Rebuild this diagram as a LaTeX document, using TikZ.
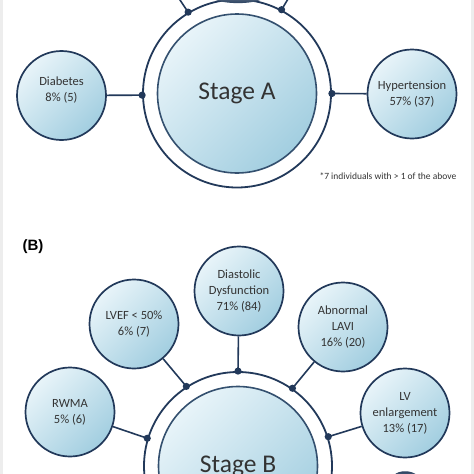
\documentclass[tikz,border=0pt]{standalone}
\usepackage{fontspec}
\setmainfont{Carlito}
\newfontfamily\tagfont{Liberation Sans}
\usepackage{tikz}
\definecolor{navy}{HTML}{22395A}
\definecolor{ringline}{HTML}{34506F}
\definecolor{paleblue}{HTML}{E8F4F9}
\definecolor{midblue}{HTML}{A2CEE0}
\definecolor{sidegray}{HTML}{EDEDED}
\definecolor{slate}{HTML}{4A5E77}
\definecolor{ink}{HTML}{333333}

\begin{document}
\begin{tikzpicture}[x=1pt,y=-1pt,
  satfont/.style={align=center,text=ink,font=\fontsize{12.5}{16}\selectfont},
  sat/.style={circle,draw=navy,line width=1.7pt,minimum size=89pt,inner sep=0pt,satfont,
    top color=paleblue,bottom color=midblue,shading angle=45},
  ring/.style={circle,draw=navy,line width=1.8pt,fill=white,minimum size=188pt,inner sep=0pt},
  core/.style={circle,draw=ringline,line width=1.6pt,minimum size=159pt,inner sep=0pt,text=ink,
    top color=paleblue,bottom color=midblue,shading angle=45,font=\fontsize{25.5}{30}\selectfont},
  link/.style={draw=navy,line width=1.6pt}]
\useasboundingbox (0,0) rectangle (474,474);
\clip (0,0) rectangle (474,474);
\fill[sidegray] (0,0) rectangle (3,474);
\fill[sidegray] (471,0) rectangle (474,474);

% (A)
\node[ring] (ringA) at (237,93.5) {};
\node[core] (coreA) at (237,93.5) {Stage A};
\node[sat,label={[satfont,yshift=5pt]center:Diabetes\\8\% (5)}] (diab) at (61.5,95.5) {};
\node[sat] (hyper) at (412,94) {Hypertension\\57\% (37)};
\coordinate (jA1) at (ringA.181);
\coordinate (jA2) at (ringA.0);
\coordinate (jA3) at (ringA.121.3);
\coordinate (jA4) at (ringA.62.8);
\coordinate (offL) at (176,-6);
\coordinate (offR) at (291,-6);
\draw[link] (diab) -- (jA1);
\draw[link] (hyper) -- (jA2);
\draw[link] (jA3) -- (offL);
\draw[link] (jA4) -- (offR);
\shade[top color=slate,bottom color=navy] (213,-1) .. controls (225,4.5) and (251,4.5) .. (263,-1) -- cycle;
\node[anchor=west,text=ink,font=\fontsize{9.5}{11}\selectfont] (note) at (316,176) {*7 individuals with > 1 of the above};

% (B)
\node[font=\tagfont\bfseries\fontsize{15}{18}\selectfont] (tagB) at (33,247) {(B)};
\node[ring] (ringB) at (238,466) {};
\node[core] (coreB) at (238,466) {Stage B};
\node[sat] (diast) at (239,291) {Diastolic\\Dysfunction\\71\% (84)};
\node[sat] (lvef) at (134,324) {LVEF < 50\%\\6\% (7)};
\node[sat] (lavi) at (343,327) {Abnormal\\LAVI\\16\% (20)};
\node[sat] (rwma) at (70,412) {RWMA\\5\% (6)};
\node[sat] (lvenl) at (405,413) {LV\\enlargement\\13\% (17)};
\coordinate (jB1) at (ringB.90);
\coordinate (jB2) at (ringB.123.7);
\coordinate (jB3) at (ringB.55.5);
\coordinate (jB4) at (ringB.163.6);
\coordinate (jB5) at (ringB.18.6);
\draw[link] (diast) -- (jB1);
\draw[link] (lvef) -- (jB2);
\draw[link] (lavi) -- (jB3);
\draw[link] (rwma) -- (jB4);
\draw[link] (lvenl) -- (jB5);
\shade[top color=navy,bottom color=slate] (394,475) .. controls (399,470) and (411,470) .. (417,475) -- cycle;

\foreach \j in {jA1,jA2,jA3,jA4,jB1,jB2,jB3,jB4,jB5}
  \fill[navy] (\j) circle (3.6pt);
\end{tikzpicture}
\end{document}
